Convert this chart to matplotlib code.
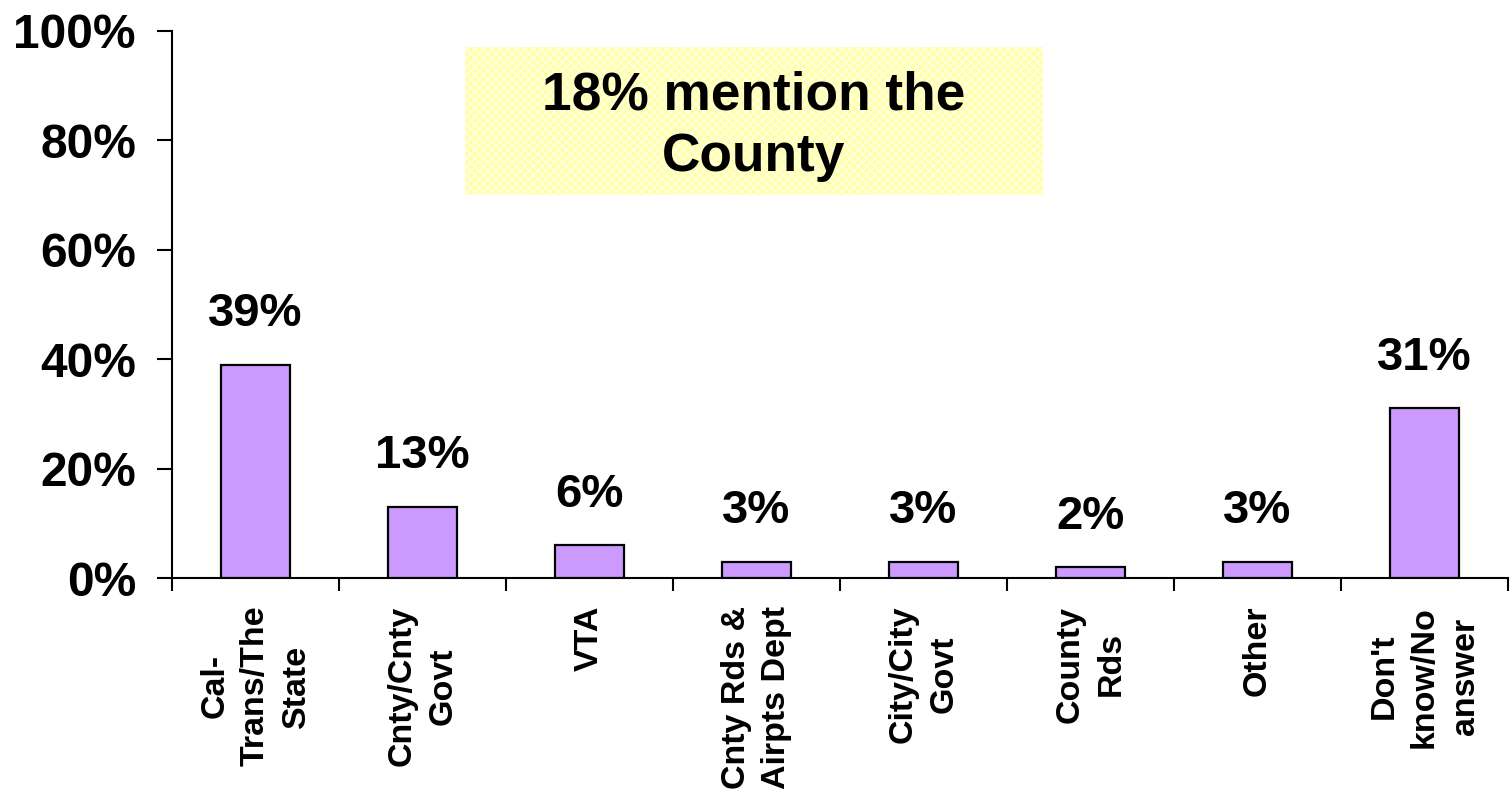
import numpy as np
import matplotlib.pyplot as plt
from matplotlib.patches import Rectangle

plt.rcParams['font.family'] = ['Liberation Sans', 'DejaVu Sans']
plt.rcParams['font.weight'] = 'bold'

categories = ["Cal-\nTrans/The\nState", "Cnty/Cnty\nGovt", "VTA", "Cnty Rds &\nAirpts Dept",
              "City/City\nGovt", "County\nRds", "Other", "Don't\nknow/No\nanswer"]
values = [39, 13, 6, 3, 3, 2, 3, 31]
yticks = [0, 20, 40, 60, 80, 100]
note = "18% mention the\nCounty"

fig = plt.figure(figsize=(15.12, 7.94), dpi=100)
ax = fig.add_axes([172/1512, 1-578/794, (1508-172)/1512, (578-31)/794])

x = np.arange(len(categories))
ax.bar(x, values, width=0.41, color='#CC99FF', edgecolor='black', linewidth=1.6, zorder=3)

for xi, v in zip(x, values):
    ax.annotate(f"{v}%", (xi, v), xytext=(0, 20.5), textcoords='offset points',
                ha='center', va='bottom', fontsize=34, fontweight='bold')

ax.set_xlim(-0.5, len(categories) - 0.5)
ax.set_ylim(0, 100)
ax.set_yticks(yticks)
ax.set_yticklabels([f"{t}%" for t in yticks], fontsize=34.5, fontweight='bold')
ax.tick_params(axis='y', direction='out', length=11, width=1.5, pad=15)

ax.set_xticks(x)
ax.set_xticklabels(categories, rotation=90, ha='center', va='top', fontsize=24.5,
                   fontweight='bold', linespacing=1.4)
ax.set_xticks(np.arange(-0.5, len(categories)), minor=True)
ax.tick_params(axis='x', which='major', length=0, pad=20)
ax.tick_params(axis='x', which='minor', direction='out', length=9, width=1.5)

for s in ['top', 'right']:
    ax.spines[s].set_visible(False)
for s in ['left', 'bottom']:
    ax.spines[s].set_linewidth(1.5)

# yellow note box
box = Rectangle((1.254, 70.0), 3.462, 27.1, facecolor='#FFFFA6', edgecolor='none', zorder=1)
ax.add_patch(box)
hatch = Rectangle((1.254, 70.0), 3.462, 27.1, facecolor='none', edgecolor='#FFFFE6',
                  hatch='xxxx', linewidth=0, zorder=1)
ax.add_patch(hatch)
ax.text(2.985, 82.6, note, ha='center', va='center', fontsize=38.3, fontweight='bold',
        linespacing=1.3, zorder=2)

fig.savefig('out.png', dpi=100)
